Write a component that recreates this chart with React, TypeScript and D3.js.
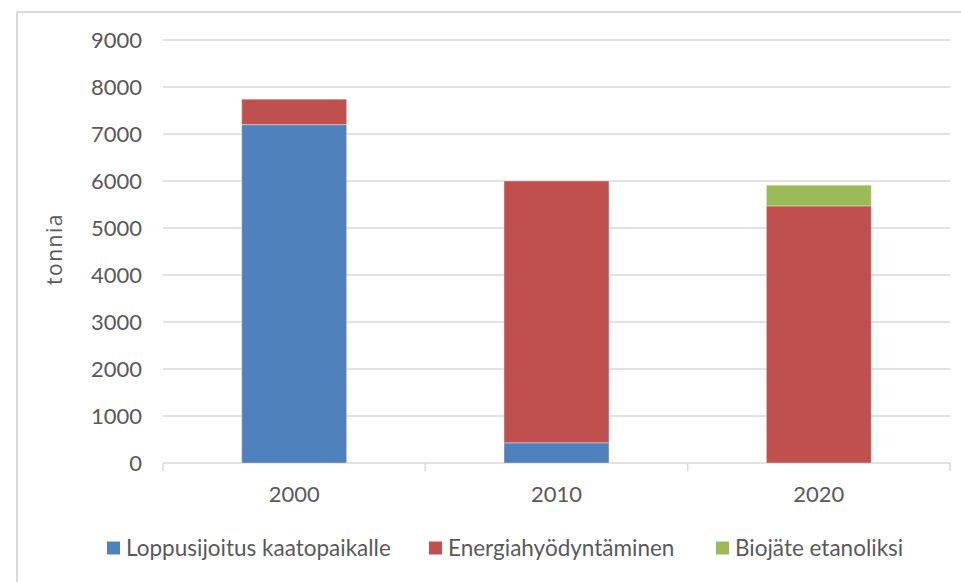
import React from 'react';
import * as d3 from 'd3';

const years = ['2000', '2010', '2020'];
const landfill = [7200, 430, 0];
const energy = [540, 5570, 5470];
const ethanol = [0, 0, 440];
const seriesNames = ['Loppusijoitus kaatopaikalle', 'Energiahyödyntäminen', 'Biojäte etanoliksi'];
const seriesColors = ['#4f81bd', '#c0504d', '#9bbb59'];
const yTicks = [0, 1000, 2000, 3000, 4000, 5000, 6000, 7000, 8000, 9000];
const yLabel = 'tonnia';

const W = 961;
const H = 582;
const left = 163;
const right = 950;
const top = 40;
const bottom = 463;
const font = 'Lato, "Open Sans", sans-serif';
const textColor = '#595959';
const gridColor = '#d9d9d9';

export default function App() {
  const keys = ['landfill', 'energy', 'ethanol'];
  const rows = years.map((y, i) => ({ year: y, landfill: landfill[i], energy: energy[i], ethanol: ethanol[i] }));
  const stacked = d3.stack<any>().keys(keys)(rows);

  const x = d3.scaleBand<string>().domain(years).range([left, right]).paddingInner(0.6).paddingOuter(0.3);
  const y = d3.scaleLinear().domain([0, 9000]).range([bottom, top]);
  const step = x.step();
  const boundaries = d3.range(years.length + 1).map((i) => left + i * step);

  const legendX = [107, 429, 716];

  return (
    <svg width={W} height={H} style={{ position: 'absolute', left: 0, top: 0, background: '#fff' }}>
      <rect x={0} y={0} width={W} height={H} fill="#fff" />
      <line x1={17} y1={12} x2={W} y2={12} stroke={gridColor} strokeWidth={2} />
      <line x1={17} y1={12} x2={17} y2={H} stroke={gridColor} strokeWidth={2} />
      {yTicks.map((t) => (
        <g key={t}>
          <line x1={left} x2={right} y1={y(t)} y2={y(t)} stroke={gridColor} strokeWidth={1.5} />
          <text x={142} y={y(t)} dy="0.35em" textAnchor="end" fontFamily={font} fontSize={22} fill={textColor}>
            {t}
          </text>
        </g>
      ))}
      {boundaries.map((b, i) => (
        <line key={i} x1={b} x2={b} y1={bottom} y2={bottom + 8} stroke={gridColor} strokeWidth={1.5} />
      ))}
      {stacked.map((s, si) => (
        <g key={s.key}>
          {s.map((d, i) =>
            d[1] - d[0] > 0 ? (
              <rect
                key={i}
                x={x(years[i])}
                width={x.bandwidth()}
                y={y(d[1])}
                height={y(d[0]) - y(d[1])}
                fill={seriesColors[si]}
                stroke="#ffffff"
                strokeOpacity={0.35}
                strokeWidth={1}
              />
            ) : null
          )}
        </g>
      ))}
      {years.map((yr) => (
        <text key={yr} x={(x(yr) as number) + x.bandwidth() / 2} y={502} textAnchor="middle" fontFamily={font} fontSize={22} fill={textColor}>
          {yr}
        </text>
      ))}
      <text
        transform={`translate(62,249) rotate(-90)`}
        textAnchor="middle"
        fontFamily='"Open Sans", sans-serif'
        fontSize={21}
        letterSpacing={1.5}
        fill={textColor}
      >
        {yLabel}
      </text>
      {seriesNames.map((n, i) => (
        <g key={n}>
          <rect x={legendX[i]} y={541.5} width={13} height={13} fill={seriesColors[i]} />
          <text x={legendX[i] + 19} y={548} dy="0.35em" fontFamily={font} fontSize={22.5} fill={textColor}>
            {n}
          </text>
        </g>
      ))}
    </svg>
  );
}
